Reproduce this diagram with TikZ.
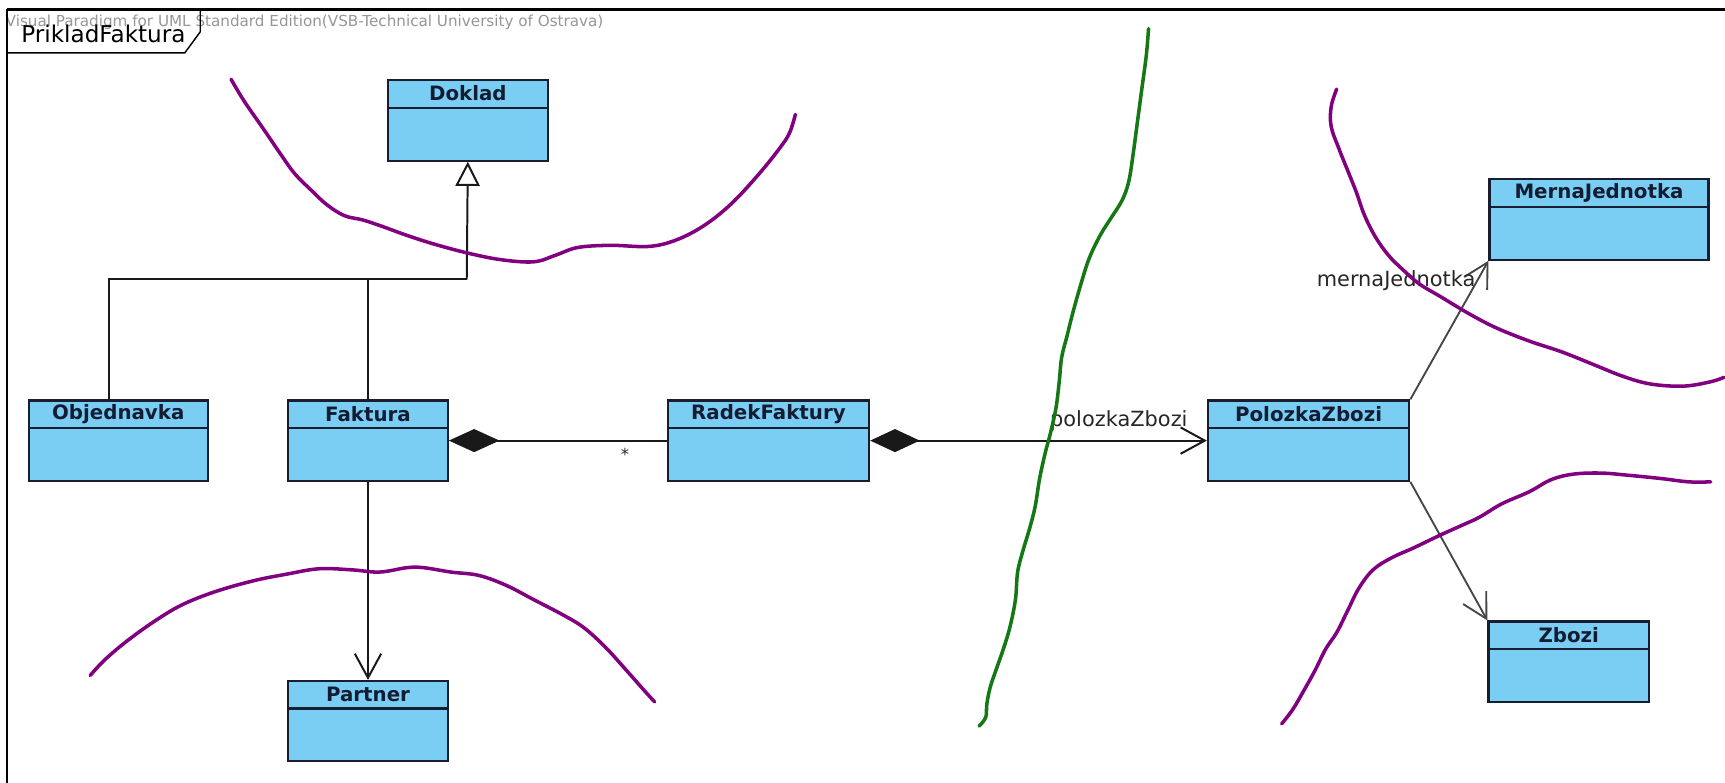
\documentclass[tikz,border=0pt]{standalone}
\usepackage{fontspec}
\setmainfont{DejaVu Sans}
\usetikzlibrary{arrows.meta}
\definecolor{clsfill}{RGB}{122,206,244}
\definecolor{clsborder}{RGB}{24,30,48}
\definecolor{clstext}{RGB}{20,28,50}
\definecolor{conncol}{RGB}{25,25,25}
\definecolor{diagcol}{RGB}{70,70,70}
\definecolor{purp}{RGB}{128,0,128}
\definecolor{grn}{RGB}{20,120,20}
\definecolor{wmark}{RGB}{150,150,150}
\tikzset{
  clsbox/.style={draw=clsborder, fill=clsfill, line width=2pt, inner sep=0pt, minimum height=73pt},
  clsline/.style={draw=clsborder, line width=2pt},
  clsname/.style={text=clstext, font=\fontsize{18}{20}\selectfont\bfseries, inner sep=0pt},
  conn/.style={draw=conncol, line width=1.8pt},
  diag/.style={draw=diagcol, line width=1.7pt},
  lbl/.style={text=black!85, font=\fontsize{19}{20}\selectfont, inner sep=0pt},
  openhead/.style={-{Straight Barb[length=22pt, width=24pt]}},
  stroke/.style={line width=3.2pt, line cap=round, line join=round},
}
\newcommand\umlclass[5]{%
  \node[clsbox, minimum width=#4, anchor=north west] (#1) at (#2,#3) {};
  \draw[clsline] ([yshift=-26pt]#1.north west) -- ([yshift=-26pt]#1.north east);
  \node[clsname] (#1-t) at ([yshift=-13pt]#1.north) {#5};
}
\begin{document}
\begin{tikzpicture}[x=1pt, y=-1pt]
\useasboundingbox (0,0) rectangle (1568,711);
% frame
\node[anchor=west, text=wmark, font=\fontsize{13.8}{14}\selectfont, inner sep=0pt] (wm) at (5,20) {Visual Paradigm for UML Standard Edition(VSB-Technical University of Ostrava)};
\draw[black, line width=2.4pt] (6.5,8.5) -- (1600,8.5);
\draw[black, line width=2.4pt] (6.5,8.5) -- (6.5,730);
\draw[black, line width=1.3pt] (6.5,8.5) -- (182,8.5) -- (182,29) -- (168,48) -- (6.5,48);
\node[font=\fontsize{21}{23}\selectfont, inner sep=0pt] (title) at (94,31) {PrikladFaktura};
% classes
\umlclass{doklad}{351.5}{72}{145.5}{Doklad}
\umlclass{objednavka}{25}{363}{163}{Objednavka}
\umlclass{faktura}{261}{363}{145}{Faktura}
\umlclass{radek}{606}{363}{183}{RadekFaktury}
\umlclass{polozka}{1097}{363}{183}{PolozkaZbozi}
\umlclass{merna}{1353}{162}{199}{MernaJednotka}
\umlclass{zbozi}{1352}{564}{146}{Zbozi}
\umlclass{partner}{261}{618}{145}{Partner}
% generalization
\coordinate (gen) at (424.25,254);
\draw[conn, -{Triangle[open, length=22pt, width=22pt, fill=white]}] (gen) -- (doklad.south);
\draw[conn] ([xshift=-8.5pt]objednavka.north) |- (gen);
\draw[conn] (faktura.north) -- (faktura.north |- gen);
% compositions / associations
\draw[conn, {Diamond[length=46pt, width=21pt]}-] (faktura.east) -- (radek.west);
\node[lbl, font=\fontsize{15}{16}\selectfont] (star) at (568,413) {*};
\draw[conn, {Diamond[length=45pt, width=21pt]}-{Straight Barb[length=22pt, width=24pt]}] (radek.east) -- (polozka.west);
\node[lbl] (pzlbl) at (1017,382) {polozkaZbozi};
\draw[conn, openhead] (faktura.south) -- (partner.north);
\draw[diag, openhead] (polozka.north east) -- (merna.south west);
\node[lbl] (mjlbl) at (1269,255) {mernaJednotka};
\draw[diag, openhead] (polozka.south east) -- (zbozi.north west);
% hand-drawn strokes
\draw[stroke, purp] plot[smooth, tension=0.6] coordinates {(210,72) (222,92) (240,118) (255,140) (268,158) (283,173) (297,186) (313,196) (330,200) (348,206) (370,214) (395,222) (425,230) (455,236) (485,238) (505,232) (525,225) (555,223) (590,224) (615,218) (640,205) (665,185) (690,158) (710,133) (718,120) (723,104)};
\draw[stroke, purp] plot[smooth, tension=0.6] coordinates {(82,614) (95,600) (115,583) (140,565) (165,550) (195,538) (230,528) (260,522) (290,517) (320,518) (345,520) (370,516) (385,516) (410,520) (435,523) (460,532) (485,545) (510,558) (530,570) (550,588) (570,610) (585,627) (595,638)};
\draw[stroke, grn] plot[smooth, tension=0.6] coordinates {(1044,26) (1042,50) (1038,80) (1034,110) (1030,140) (1026,165) (1020,182) (1010,198) (1000,214) (990,235) (982,260) (975,285) (970,305) (965,325) (963,345) (960,370) (955,393) (950,412) (945,435) (941,460) (936,480) (930,500) (925,520) (923,545) (918,570) (912,590) (905,610) (900,625) (897,640) (896,652) (890,660)};
\draw[stroke, purp] plot[smooth, tension=0.6] coordinates {(1215,81) (1210,97) (1210,115) (1217,135) (1225,155) (1233,175) (1240,195) (1250,215) (1262,232) (1275,245) (1290,258) (1310,270) (1335,285) (1360,298) (1390,310) (1420,320) (1450,332) (1475,342) (1500,349) (1530,351) (1555,347) (1567,343)};
\draw[stroke, purp] plot[smooth, tension=0.6] coordinates {(1165,658) (1175,645) (1185,628) (1195,610) (1205,590) (1215,575) (1225,555) (1235,535) (1248,518) (1265,507) (1285,498) (1310,486) (1330,477) (1345,470) (1365,458) (1390,447) (1410,436) (1430,431) (1455,430) (1480,432) (1510,435) (1535,438) (1555,438)};
\end{tikzpicture}
\end{document}
